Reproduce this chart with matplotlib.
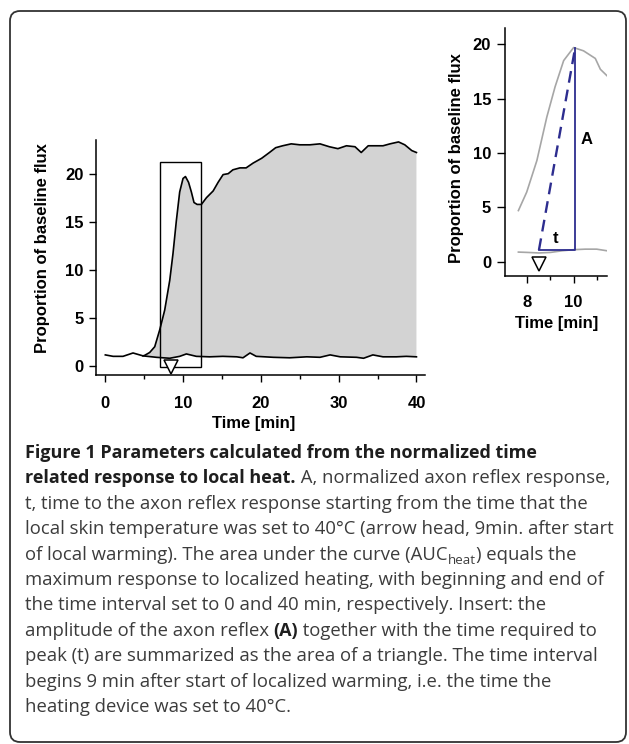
import numpy as np
import matplotlib
matplotlib.use('Agg')
import matplotlib.pyplot as plt
from matplotlib.patches import FancyBboxPatch, Rectangle

# main curve: response to local heat
resp_t = [4.84, 5.05, 5.7, 6.35, 6.99, 7.63, 8.28, 8.7, 9.13, 9.56, 9.99, 10.3, 10.7,
          11.06, 11.4, 11.8, 12.35, 13.0, 13.86, 14.5, 15.14, 15.8, 16.4, 17.3, 18.1,
          19.0, 20.1, 21.1, 21.9, 22.8, 23.9, 25.0, 26.3, 27.6, 28.8, 29.9, 31.0, 32.1,
          32.9, 33.8, 34.9, 35.7, 36.6, 37.7, 38.5, 39.4, 40.0]
resp_v = [1.05, 1.1, 1.4, 2.0, 3.75, 5.8, 8.9, 11.7, 15.1, 18.1, 19.5, 19.7, 19.1,
          18.1, 17.0, 16.8, 16.8, 17.5, 18.2, 19.1, 19.9, 20.0, 20.4, 20.6, 20.6,
          21.1, 21.6, 22.2, 22.7, 22.9, 23.1, 23.0, 23.0, 23.1, 22.8, 22.6, 22.9, 22.8,
          22.2, 22.9, 22.9, 22.9, 23.1, 23.3, 23.0, 22.4, 22.2]

# baseline flux curve
base_t = [0, 1.0, 2.27, 3.56, 4.84, 6.56, 8.28, 9.56, 10.42, 11.7, 13.4, 15.1, 16.9,
          17.7, 18.6, 19.4, 21.6, 23.7, 25.9, 27.6, 28.9, 30.2, 32.3, 33.2, 34.4, 35.7,
          37.4, 38.7, 40]
base_v = [1.15, 1.0, 1.0, 1.35, 1.05, 0.9, 0.8, 1.0, 1.25, 1.0, 0.95, 1.0, 0.95,
          0.85, 1.35, 1.0, 0.9, 0.85, 0.95, 0.9, 1.15, 0.95, 0.9, 0.8, 1.15, 0.95,
          0.95, 1.0, 0.95]

# insert
ins_t = [7.61, 7.97, 8.41, 8.84, 9.2, 9.57, 10.0, 10.43, 10.94, 11.16, 11.45]
ins_v = [4.7, 6.4, 9.3, 13.3, 16.1, 18.5, 19.7, 19.4, 18.7, 17.7, 17.1]
ins_base_t = [7.61, 8.0, 8.5, 9.0, 9.5, 10.0, 10.5, 11.0, 11.45]
ins_base_v = [0.88, 0.85, 0.8, 0.85, 1.0, 1.1, 1.15, 1.15, 1.0]

heat_on = 8.5          # arrow head
peak_t, peak_v = 10.07, 19.7
tri_base = 1.07
zoom_box = (7.0, -0.1, 12.35, 21.2)

caption = [
    [("Figure 1 Parameters calculated from the normalized time", 'bold')],
    [("related response to local heat.", 'bold'), (" A, normalized axon reflex response,", 'normal')],
    [("t, time to the axon reflex response starting from the time that the", 'normal')],
    [("local skin temperature was set to 40°C (arrow head, 9min. after start", 'normal')],
    [("of local warming). The area under the curve (AUC", 'normal'), ("heat", 'sub'), (") equals the", 'normal')],
    [("maximum response to localized heating, with beginning and end of", 'normal')],
    [("the time interval set to 0 and 40 min, respectively. Insert: the", 'normal')],
    [("amplitude of the axon reflex ", 'normal'), ("(A)", 'bold'), (" together with the time required to", 'normal')],
    [("peak (t) are summarized as the area of a triangle. The time interval", 'normal')],
    [("begins 9 min after start of localized warming, i.e. the time the", 'normal')],
    [("heating device was set to 40°C.", 'normal')],
]

W, H = 629, 744
plt.rcParams['font.family'] = 'Liberation Sans'
plt.rcParams['font.weight'] = 'bold'
plt.rcParams['font.size'] = 12

fig = plt.figure(figsize=(W / 100, H / 100), dpi=100)

# background layer in pixel units (frame + caption)
bg = fig.add_axes([0, 0, 1, 1], zorder=-1)
bg.set_xlim(0, W)
bg.set_ylim(H, 0)
bg.axis('off')
bg.add_patch(FancyBboxPatch((10, 11), 616, 731, boxstyle='round,pad=0,rounding_size=10',
                            fill=False, ec='#333333', lw=1.3))

renderer = fig.canvas.get_renderer()
cap_font = 'Open Sans'
sizes = {'normal': 10, 'bold': 10}


def draw_line(x, y, line):
    for txt, style in line:
        if style == 'sub':
            t = bg.text(x, y + 4, txt, fontsize=sizes['normal'] * 0.72, family=cap_font,
                        weight='normal', color='#3c3c3c', va='baseline')
        else:
            t = bg.text(x, y, txt, fontsize=sizes[style], family=cap_font,
                        weight=style, color='#1e1e1e' if style == 'bold' else '#3c3c3c',
                        va='baseline')
        x += t.get_window_extent(renderer).width
    return x


# fit caption sizes to the text block of the original
reg_w = sum(draw_line(0, -100, caption[i]) for i in (2, 3, 5, 8))
sizes['normal'] = 10 * 2302 / reg_w
bold_w1 = draw_line(0, -100, caption[0])
bold_w2 = draw_line(0, -100, caption[1][:1])
reg_w2 = draw_line(0, -100, caption[1][1:])
sizes['bold'] = 10 * min(533 / bold_w1, (589 - reg_w2) / bold_w2)
for t in list(bg.texts):
    t.remove()

y0, dy = 458, 25.4
for i, line in enumerate(caption):
    draw_line(25, y0 + i * dy, line)

# main plot
ax = fig.add_axes([96 / W, 1 - 375 / H, 329 / W, 235 / H])
k = base_t.index(4.84)
ax.fill(resp_t + base_t[k:][::-1], resp_v + base_v[k:][::-1], color='#d3d3d3', lw=0)
ax.plot(base_t, base_v, color='black', lw=1.2)
ax.plot(resp_t, resp_v, color='black', lw=1.2)
x0, yb, x1, yt = zoom_box
ax.add_patch(Rectangle((x0, yb), x1 - x0, yt - yb, fill=False, ec='black', lw=1.0, clip_on=False))
ax.plot([heat_on], [-0.1], marker='v', ms=10, mfc='white', mec='black', mew=1.1, clip_on=False)
ax.set_xlim(-1.2, 41.1)
ax.set_ylim(-0.94, 23.5)
ax.set_xticks([0, 10, 20, 30, 40])
ax.set_xticks([5, 15, 25, 35], minor=True)
ax.set_yticks([0, 5, 10, 15, 20])
ax.spines[['top', 'right']].set_visible(False)
ax.spines[['left', 'bottom']].set_linewidth(1.1)
ax.tick_params(axis='x', which='major', length=5, width=1.0, pad=10)
ax.tick_params(axis='x', which='minor', length=3, width=1.0)
ax.tick_params(axis='y', length=5, width=1.0, pad=4)
ax.set_xlabel('Time [min]', fontweight='bold')
ax.set_ylabel('Proportion of baseline flux', fontweight='bold')
ax.xaxis.set_label_coords(0.48, -0.175)
ax.yaxis.set_label_coords(-0.14, 0.54)

# insert
ax2 = fig.add_axes([505 / W, 1 - 276 / H, 102.3 / W, 248 / H])
ax2.plot(ins_t, ins_v, color='#a6a6a6', lw=1.2)
ax2.plot(ins_base_t, ins_base_v, color='#a6a6a6', lw=1.2)
blue = '#2d2d8f'
ax2.plot([heat_on, peak_t, peak_t], [tri_base, tri_base, peak_v], color=blue, lw=1.3)
ax2.plot([heat_on, peak_t], [tri_base, peak_v], color=blue, lw=1.7, ls=(0, (5, 3)))
ax2.plot([heat_on], [-0.2], marker='v', ms=9.5, mfc='white', mec='black', mew=1.1, clip_on=False)
ax2.text(10.58, 11.2, 'A', ha='center', va='center', fontweight='bold')
ax2.text(9.23, 2.1, 't', ha='center', va='center', fontweight='bold')
ax2.set_xlim(7.03, 11.46)
ax2.set_ylim(-1.32, 21.5)
ax2.set_xticks([8, 10])
ax2.set_xticks([9, 11], minor=True)
ax2.set_yticks([0, 5, 10, 15, 20])
ax2.spines[['top', 'right']].set_visible(False)
ax2.spines[['left', 'bottom']].set_linewidth(1.1)
ax2.tick_params(axis='x', which='major', length=5, width=1.0, pad=9)
ax2.tick_params(axis='x', which='minor', length=3, width=1.0)
ax2.tick_params(axis='y', length=6, width=1.0, pad=4)
ax2.set_xlabel('Time [min]', fontweight='bold')
ax2.set_ylabel('Proportion of baseline flux', fontweight='bold')
ax2.yaxis.set_label_coords(-0.40, 0.476)

fig.savefig('out.png', dpi=100)
